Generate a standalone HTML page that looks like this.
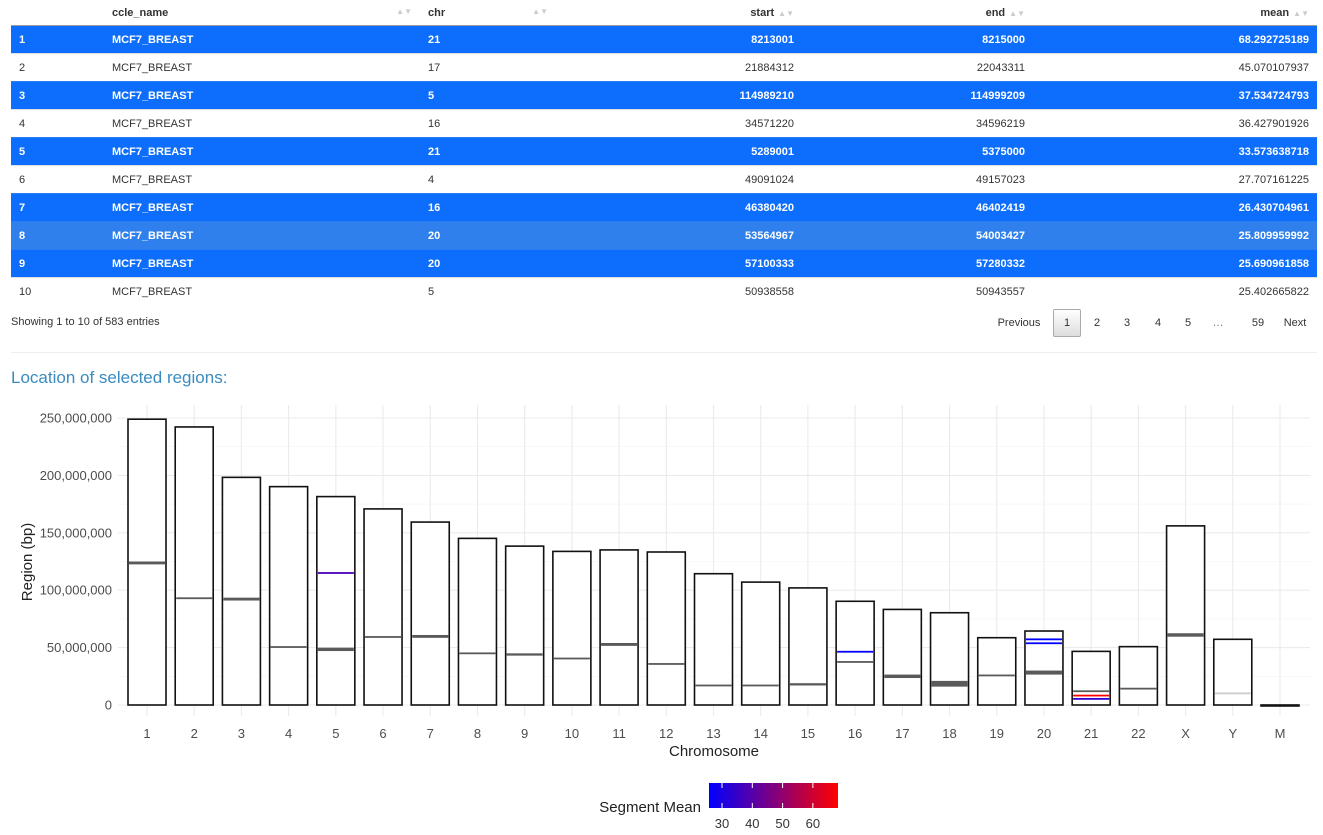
<!DOCTYPE html>
<html><head><meta charset="utf-8">
<style>
body{margin:0;background:#fff;font-family:"Liberation Sans",Arial,sans-serif;width:1323px;height:835px;overflow:hidden;position:relative}
.abs{position:absolute}
table{position:absolute;left:11px;top:0;width:1306px;border-collapse:collapse;font-size:11px;color:#333}
th{height:25px;font-weight:bold;text-align:left;border-bottom:1px solid #999;padding:0 8px;position:relative}
td{height:27px;border-top:1px solid #ddd;padding:0 8px}
tr.sel td{background:#0d6efd;color:#fff;font-weight:bold;border-top:1px solid #2a7ef5}
tr.sel2 td{background:#2f80ed}
.r{text-align:right}
.sort{color:#ccc;font-size:8px;margin-left:4px}
.pg{position:absolute;top:309px;font-size:11px;color:#333;height:28px;line-height:28px;text-align:center}
</style></head><body>
<table>
<thead><tr>
<th style="width:77px"></th>
<th style="width:300px">ccle_name<span class="sort" style="float:right">▲▼</span></th>
<th style="width:120px">chr<span class="sort" style="float:right">▲▼</span></th>
<th class="r" style="width:230px">start<span class="sort">▲▼</span></th>
<th class="r" style="width:215px">end<span class="sort">▲▼</span></th>
<th class="r">mean<span class="sort">▲▼</span></th>
</tr></thead>
<tbody id="tb"></tbody>
</table>
<div class="abs" style="left:11px;top:316px;font-size:11px;color:#333">Showing 1 to 10 of 583 entries</div>
<div class="pg" style="left:993px;width:52px;color:#333">Previous</div>
<div class="pg" style="left:1053px;width:26px;border:1px solid #aaa;border-radius:2px;background:linear-gradient(#fff,#ddd);height:26px;line-height:26px">1</div>
<div class="pg" style="left:1087px;width:20px">2</div>
<div class="pg" style="left:1117px;width:20px">3</div>
<div class="pg" style="left:1148px;width:20px">4</div>
<div class="pg" style="left:1178px;width:20px">5</div>
<div class="pg" style="left:1208px;width:20px;color:#777">…</div>
<div class="pg" style="left:1243px;width:30px">59</div>
<div class="pg" style="left:1280px;width:30px">Next</div>
<div class="abs" style="left:11px;top:352px;width:1306px;border-top:1px solid #eee"></div>
<div class="abs" style="left:11px;top:368px;font-size:17px;color:#3a8bc0">Location of selected regions:</div>
<svg class="abs" style="left:0;top:0" width="1323" height="835" id="chart"></svg>
<script>
const rowIdx=[1,2,3,4,5,6,7,8,9,10];
const rowChr=["21","17","5","16","21","4","16","20","20","5"];
const rowStart=[8213001,21884312,114989210,34571220,5289001,49091024,46380420,53564967,57100333,50938558];
const rowEnd=[8215000,22043311,114999209,34596219,5375000,49157023,46402419,54003427,57280332,50943557];
const rowMean=["68.292725189","45.070107937","37.534724793","36.427901926","33.573638718","27.707161225","26.430704961","25.809959992","25.690961858","25.402665822"];
const rowSel=[1,0,1,0,1,0,1,1,1,0];

const chrNames=["1","2","3","4","5","6","7","8","9","10","11","12","13","14","15","16","17","18","19","20","21","22","X","Y","M"];
const chrLen=[248956422,242193529,198295559,190214555,181538259,170805979,159345973,145138636,138394717,133797422,135086622,133275309,114364328,107043718,101991189,90338345,83257441,80373285,58617616,64444167,46709983,50818468,156040895,57227415,16569];
const segChr=["1","2","3","4","5","6","7","8","9","10","11","12","13","14","15","16","17","18","19","20","21","22","X","Y","21","5","21","16","20","20"];
const segStart=[122.5,92.5,91,50,47,59,58.5,44.5,43,40,51.5,35,16.5,16.5,17,37,23.5,16,25,26.5,11.5,13.5,59.5,10,8.2,114.99,5.29,46.38,53.56,57.1];
const segEnd=[125,93.5,93.5,51,50,59.5,61,45.5,45,41,54,36.5,17.5,17.5,19,38,26.5,21,26.5,30,12.5,15,62.5,10.3,8.22,115.0,5.38,46.4,54.0,57.28];
const segMean=[null,null,null,null,null,null,null,null,null,null,null,null,null,null,null,null,null,null,null,null,null,null,null,null,68.29,37.53,33.57,26.43,25.81,25.69];
const yTicks=[0,50000000,100000000,150000000,200000000,250000000];

const tb=document.getElementById('tb');
rowIdx.forEach((v,i)=>{
 const tr=document.createElement('tr');
 
 
 if(rowSel[i])tr.className='sel'+(i==7?' sel2':'');
 const vals=[v,'MCF7_BREAST',rowChr[i],rowStart[i],rowEnd[i],rowMean[i]];
 vals.forEach((t,j)=>{const td=document.createElement('td');td.textContent=t;if(j>=3)td.className='r';tr.appendChild(td);});
 tb.appendChild(tr);
});

const svg=document.getElementById('chart');const NS='http://www.w3.org/2000/svg';
function mk(tag,at,name){const e=document.createElementNS(NS,tag);for(const k in at)e.setAttribute(k,at[k]);
 
 
 svg.appendChild(e);return e;}
const px0=118,px1=1310,py0=405,py1=716;
const X=i=>147+i*(1280-147)/24;
const Y=v=>705-v*(287/250000000);
const bw=38;
function col(m){const t=Math.max(0,Math.min(1,(m-25.7)/(68.3-25.7)));return `rgb(${Math.round(255*t)},0,${Math.round(255*(1-t))})`;}
// grid
for(let k=0;k<yTicks.length;k++){
 mk('line',{x1:px0,x2:px1,y1:Y(yTicks[k]),y2:Y(yTicks[k]),stroke:'#ebebeb','stroke-width':1.1},'y-gridline');
 if(k<yTicks.length-1){const m=(yTicks[k]+yTicks[k+1])/2;mk('line',{x1:px0,x2:px1,y1:Y(m),y2:Y(m),stroke:'#f3f3f3','stroke-width':0.6},'y-minor-gridline');}
 const t=mk('text',{x:112,y:Y(yTicks[k])+4.5,'text-anchor':'end','font-size':13,fill:'#4d4d4d'},'y-tick-label');t.textContent=yTicks[k].toLocaleString('en-US');
}
chrNames.forEach((c,i)=>{
 mk('line',{x1:X(i),x2:X(i),y1:py0,y2:py1,stroke:'#ebebeb','stroke-width':1.1},'x-gridline');
 const t=mk('text',{x:X(i),y:738,'text-anchor':'middle','font-size':13,fill:'#4d4d4d'},'x-tick-label');t.textContent=c;
});
chrNames.forEach((c,i)=>{
 mk('rect',{x:X(i)-bw/2,y:Y(chrLen[i]),width:bw,height:Math.max(1,705-Y(chrLen[i])),fill:'#fff',stroke:'#111','stroke-width':1.6},'chromosome-bar-'+c);
});
segChr.forEach((c,i)=>{
 const ci=chrNames.indexOf(c);const y1=Y(segEnd[i]*1e6),y2=Y(segStart[i]*1e6);const h=Math.max(1.8,y2-y1);
 const f=segMean[i]==null?(c==='Y'?'#cccccc':'#5a5a5a'):col(segMean[i]);
 mk('rect',{x:X(ci)-bw/2+1,y:(y1+y2)/2-h/2,width:bw-2,height:h,fill:f},'segment-chr'+c);
});
let t=mk('text',{x:714,y:756,'text-anchor':'middle','font-size':15,fill:'#222'},'x-axis-title');t.textContent='Chromosome';
t=mk('text',{x:32,y:562,'text-anchor':'middle','font-size':15,fill:'#222',transform:'rotate(-90 32 562)'},'y-axis-title');t.textContent='Region (bp)';
// legend
const defs=document.createElementNS(NS,'defs');defs.innerHTML='<linearGradient id="g"><stop offset="0" stop-color="#0000ff"/><stop offset="1" stop-color="#ff0000"/></linearGradient>';svg.appendChild(defs);
mk('rect',{x:709,y:783,width:129,height:25,fill:'url(#g)'},'legend-colorbar');
const legTicks=[30,40,50,60];
legTicks.forEach(v=>{const x=709+(v-25.7)*129/(68.3-25.7);
 mk('line',{x1:x,x2:x,y1:783,y2:788,stroke:'#fff','stroke-width':1},'legend-tick');
 mk('line',{x1:x,x2:x,y1:803,y2:808,stroke:'#fff','stroke-width':1},'legend-tick');
 const tt=mk('text',{x:x,y:828,'text-anchor':'middle','font-size':13,fill:'#333'},'legend-tick-label');tt.textContent=v;});
t=mk('text',{x:701,y:812,'text-anchor':'end','font-size':15,fill:'#222'},'legend-title');t.textContent='Segment Mean';
</script>
</body></html>
